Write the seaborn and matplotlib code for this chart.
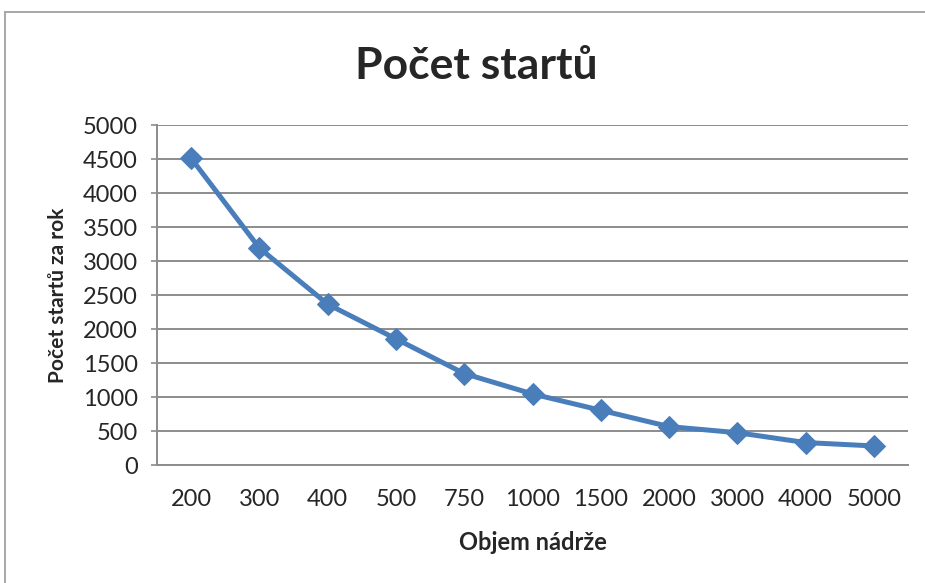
import matplotlib
matplotlib.use("Agg")
import matplotlib.pyplot as plt
import seaborn as sns
import pandas as pd
from matplotlib.patches import Rectangle

categories = ["200", "300", "400", "500", "750", "1000", "1500", "2000", "3000", "4000", "5000"]
starts = [4510, 3190, 2365, 1855, 1345, 1045, 805, 565, 475, 330, 280]
y_ticks = [0, 500, 1000, 1500, 2000, 2500, 3000, 3500, 4000, 4500, 5000]

sns.set_theme(style="white")
plt.rcParams["font.family"] = ["Lato", "DejaVu Sans"]

df = pd.DataFrame({"objem": categories, "starty": starts})

fig = plt.figure(figsize=(9.25, 5.83), dpi=100)
ax = fig.add_axes([157/925, 1-465/583, (908-157)/925, (465-125)/583])

sns.lineplot(data=df, x="objem", y="starty", ax=ax, sort=False,
             color="#4A7EBB", linewidth=3.6, marker="D", markersize=11,
             markeredgecolor="#4A7EBB")

ax.set_xlim(-0.5, len(categories) - 0.5)
ax.set_ylim(0, 5000)
ax.set_yticks(y_ticks)
ax.set_yticklabels([str(v) for v in y_ticks], fontsize=17)
ax.yaxis.grid(True, color="#8C8C8C", linewidth=1.4)
ax.set_axisbelow(True)

# category boundaries as major ticks, labels at centres as minor ticks
ax.set_xticks([i - 0.5 for i in range(len(categories) + 1)])
ax.set_xticklabels([])
ax.set_xticks(list(range(len(categories))), minor=True)
ax.set_xticklabels(categories, minor=True, fontsize=17)
ax.tick_params(axis="x", which="major", direction="out", length=4.5, width=1.2, color="#8C8C8C")
ax.tick_params(axis="x", which="minor", length=0, pad=17)
ax.tick_params(axis="y", direction="out", length=4, width=1.2, color="#8C8C8C", pad=10, left=True)

for s in ["top", "right"]:
    ax.spines[s].set_visible(False)
for s in ["left", "bottom"]:
    ax.spines[s].set_color("#8C8C8C")
    ax.spines[s].set_linewidth(1.4)

ax.set_xlabel("Objem nádrže", fontsize=17, fontweight="bold", va="center")
ax.xaxis.set_label_coords(0.5, (465 - 543) / 340)
ax.set_ylabel("Počet startů za rok", fontsize=15, fontweight="bold", va="center")
ax.yaxis.set_label_coords((58 - 157) / 751, (465 - 295) / 340)
fig.text(476/925, 1-66/583, "Počet startů", ha="center", va="center",
         fontsize=32, fontweight="bold")

fig.patches.append(Rectangle((5/925, -0.1), 1.2, 1 - 12/583 + 0.1,
                             transform=fig.transFigure, fill=False,
                             edgecolor="#A0A0A0", linewidth=1.3))

fig.savefig("out.png", dpi=100)
